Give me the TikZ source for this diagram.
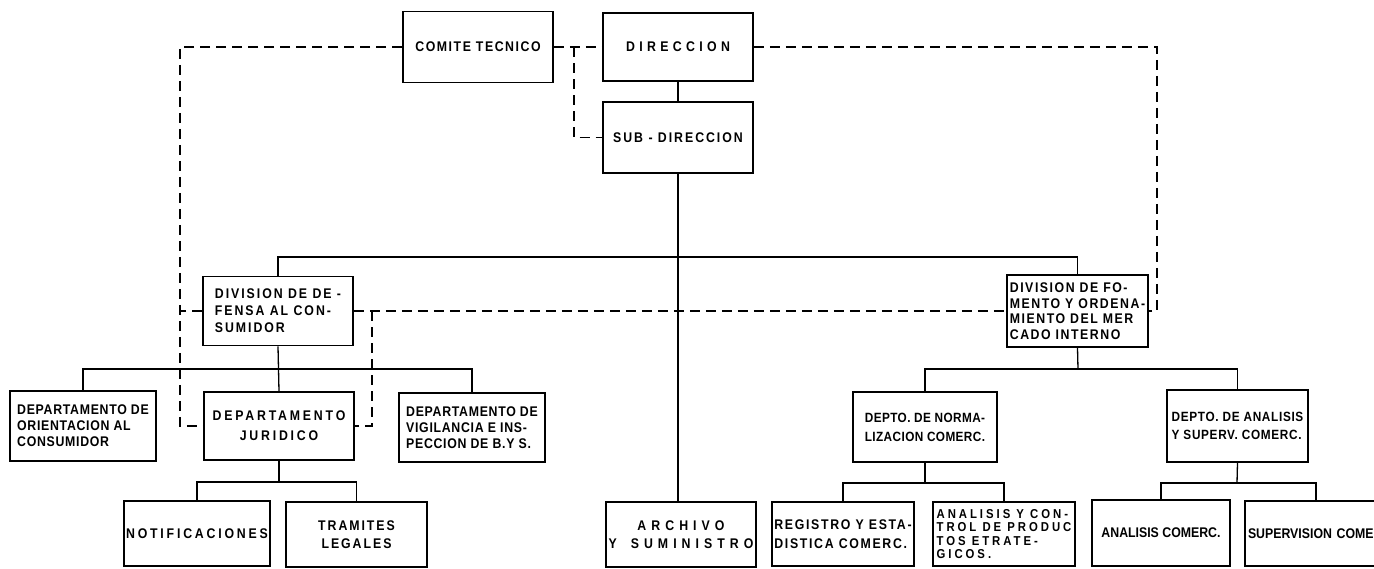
\documentclass[tikz,border=0pt]{standalone}
\usepackage{fontspec}
\setmainfont{Liberation Sans}[LetterSpace=6,FakeStretch=0.88]
\newfontfamily\lsA{Liberation Sans}[LetterSpace=0,FakeStretch=0.88]
\newfontfamily\lsB{Liberation Sans}[LetterSpace=3,FakeStretch=0.88]
\newfontfamily\lsC{Liberation Sans}[LetterSpace=5,FakeStretch=0.88]
\newfontfamily\lsD{Liberation Sans}[LetterSpace=11,FakeStretch=0.88]
\newfontfamily\lsE{Liberation Sans}[LetterSpace=14,FakeStretch=0.88]
\newfontfamily\lsF{Liberation Sans}[LetterSpace=20,FakeStretch=0.88]
\newfontfamily\lsG{Liberation Sans}[LetterSpace=31,FakeStretch=0.88]
\newfontfamily\lsH{Liberation Sans}[LetterSpace=36,FakeStretch=0.88]
\newfontfamily\lsK{Liberation Sans}[LetterSpace=12,FakeStretch=0.88]
\newfontfamily\lsL{Liberation Sans}[LetterSpace=23,FakeStretch=0.88]
\begin{document}
\begin{tikzpicture}[x=1pt,y=-1pt,
  box/.style={draw, line width=1.6pt, inner xsep=1pt, inner ysep=2pt, align=center,
    font=\lsC\bfseries\fontsize{14}{17}\selectfont},
  lbox/.style={box, align=left},
  con/.style={line width=1.3pt},
  dsh/.style={line width=1.4pt, dash pattern=on 10pt off 6pt}]
\useasboundingbox (0,0) rectangle (1374,568);
\fill[white] (0,0) rectangle (1374,568);
\begin{scope}
\clip (0,0) rectangle (1374,568);
% top level
\node[box, minimum width=150pt, minimum height=71pt, font=\lsD\bfseries\fontsize{14}{17}\selectfont] (comite) at (478,47) {COMITE TECNICO};
\node[box, minimum width=150pt, minimum height=68pt, font=\lsG\bfseries\fontsize{14}{17}\selectfont] (dir) at (678,47) {DIRECCION};
\node[box, minimum width=150pt, minimum height=71pt, font=\lsE\bfseries\fontsize{14}{17}\selectfont] (sub) at (678,137.5) {SUB - DIRECCION};
% divisions
\node[lbox, minimum width=150pt, minimum height=69pt, font=\lsE\bfseries\fontsize{14}{17}\selectfont] (defensa) at (278,311) {DIVISION DE DE -\\FENSA AL CON-\\SUMIDOR};
\node[lbox, minimum width=141pt, minimum height=72pt, font=\lsD\bfseries\fontsize{14}{15.5}\selectfont] (fomento) at (1077.5,311) {DIVISION DE FO-\\MENTO Y ORDENA-\\MIENTO DEL MER\\CADO INTERNO};
% departments under Defensa
\node[lbox, minimum width=146pt, minimum height=70pt, font=\lsC\bfseries\fontsize{14}{16}\selectfont] (orient) at (83,426) {DEPARTAMENTO DE\\ORIENTACION AL\\CONSUMIDOR};
\node[box, minimum width=150pt, minimum height=68pt, font=\lsF\bfseries\fontsize{14}{20}\selectfont] (jurid) at (279,426) {DEPARTAMENTO\\JURIDICO};
\node[lbox, minimum width=146pt, minimum height=69pt, font=\lsC\bfseries\fontsize{14}{16}\selectfont] (vigil) at (472,427.5) {DEPARTAMENTO DE\\VIGILANCIA E INS-\\PECCION DE B.Y S.};
% departments under Fomento
\node[lbox, minimum width=144pt, minimum height=70pt, font=\lsB\bfseries\fontsize{13.4}{19}\selectfont] (normal) at (925,427) {DEPTO. DE NORMA-\\LIZACION COMERC.};
\node[lbox, minimum width=141pt, minimum height=72pt, font=\lsC\bfseries\fontsize{13.4}{18}\selectfont] (analisis) at (1237.5,426) {DEPTO. DE ANALISIS\\Y SUPERV. COMERC.};
% bottom row
\node[box, minimum width=146pt, minimum height=65pt, font=\lsF\bfseries\fontsize{14}{17}\selectfont] (notif) at (197,533.5) {NOTIFICACIONES};
\node[box, minimum width=141pt, minimum height=65pt, font=\lsE\bfseries\fontsize{14}{18}\selectfont] (tram) at (356.5,534.5) {TRAMITES\\LEGALES};
\node[box, minimum width=150pt, minimum height=65pt, font=\lsH\bfseries\fontsize{14}{18}\selectfont] (archivo) at (681,534.5) {ARCHIVO\\Y\quad SUMINISTRO};
\node[lbox, minimum width=142pt, minimum height=64pt, font=\lsK\bfseries\fontsize{14}{19}\selectfont] (registro) at (843,534) {REGISTRO Y ESTA-\\DISTICA COMERC.};
\node[lbox, minimum width=142pt, minimum height=64pt, font=\lsL\bfseries\fontsize{12.9}{13.5}\selectfont] (ayc) at (1004,534) {ANALISIS Y CON-\\TROL DE PRODUC\\TOS ETRATE-\\GICOS.};
\node[lbox, minimum width=138pt, minimum height=66pt, font=\lsA\bfseries\fontsize{14}{15}\selectfont] (acom) at (1161,533) {ANALISIS COMERC.};
\node[lbox, text width=136pt, minimum height=65pt, inner xsep=3pt, font=\lsA\bfseries\fontsize{14}{15}\selectfont] (superv) at (1316,533.5) {\mbox{SUPERVISION COME}};
% solid connectors
\coordinate (b1) at (678,257);
\coordinate (b2) at (278,369);
\coordinate (b3) at (279,482);
\coordinate (b4) at (1078,369);
\coordinate (b5) at (925,483);
\coordinate (b6) at (1237,483);
\draw[con] (dir.south) -- (sub.north);
\draw[con] (sub.south) -- (sub.south |- archivo.north);
\draw[con] (defensa.north) |- (b1) -| (fomento.north);
\draw[con] (defensa.south) -- (jurid.north);
\draw[con] (orient.north) |- (b2) -| (vigil.north);
\draw[con] (jurid.south) -- (b3);
\draw[con] (notif.north) |- (b3) -| (tram.north);
\draw[con] (fomento.south) -- (b4);
\draw[con] (normal.north) |- (b4) -| (analisis.north);
\draw[con] (normal.south) -- (b5);
\draw[con] (registro.north) |- (b5) -| (ayc.north);
\draw[con] (analisis.south) -- (b6);
\draw[con] (acom.north) |- (b6) -| (superv.north);
% dashed connectors
\coordinate (cL) at (180,300);
\coordinate (cR) at (1157,200);
\coordinate (cM) at (372,311);
\coordinate (br) at (574,47);
\draw[dsh] (comite.west) -| (cL) |- (jurid.west);
\draw[dsh] (defensa.west) -- (defensa.west -| cL);
\draw[dsh] (comite.east) -- (dir.west);
\draw[dsh] (br) |- (sub.west);
\draw[dsh] (dir.east) -| (cR) |- (fomento.east);
\draw[dsh] (defensa.east) -- (fomento.west);
\draw[dsh] (cM) |- (jurid.east);
\end{scope}
\end{tikzpicture}
\end{document}
